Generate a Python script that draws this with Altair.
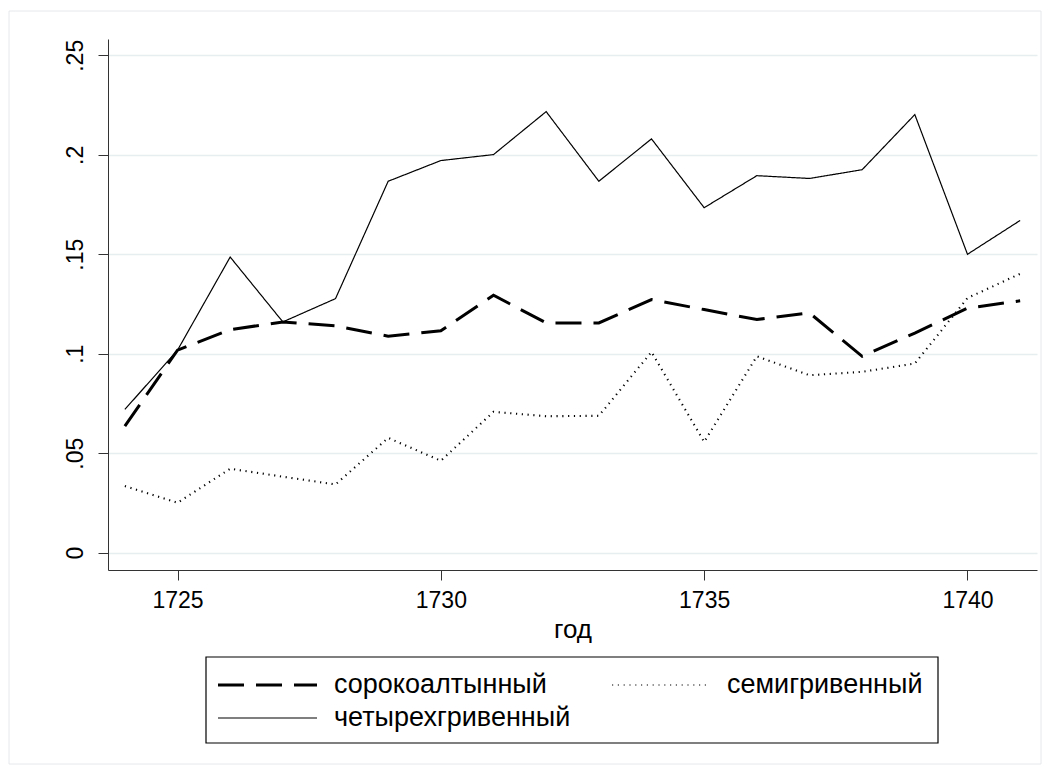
import altair as alt
import pandas as pd

years = list(range(1724, 1742))
sorok = [0.0636, 0.1018, 0.1121, 0.1160, 0.1140, 0.1088, 0.1115, 0.1294, 0.1155,
         0.1155, 0.1272, 0.1222, 0.1172, 0.1205, 0.0987, 0.1104, 0.1229, 0.1266]
semi = [0.0335, 0.0251, 0.0422, 0.0382, 0.0343, 0.0577, 0.0462, 0.0708, 0.0686,
        0.0688, 0.1009, 0.0557, 0.0987, 0.0892, 0.0909, 0.0951, 0.1280, 0.1402]
chetyr = [0.0720, 0.1018, 0.1486, 0.1160, 0.1277, 0.1867, 0.1971, 0.2001, 0.2217,
          0.1867, 0.2080, 0.1734, 0.1895, 0.1881, 0.1925, 0.2202, 0.1500, 0.1670]

series_names = ["сорокоалтынный", "семигривенный", "четырехгривенный"]
x_ticks = [1725, 1730, 1735, 1740]
y_ticks = [0, 0.05, 0.1, 0.15, 0.2, 0.25]

rows = []
for name, vals in zip(series_names, [sorok, semi, chetyr]):
    for yr, v in zip(years, vals):
        rows.append({"год": yr, "value": v, "series": name})
df = pd.DataFrame(rows)

FONT = "Liberation Sans, Arial, sans-serif"
DASHES = [[26, 12], [1.2, 4.6], [1, 0]]
WIDTHS = [3, 1.2, 1.2]

W, H = 929, 531
one = pd.DataFrame({"a": [0]})

frame = alt.Chart(one).mark_rect(
    fill="transparent", stroke="#e4e8ea", strokeWidth=1
).encode(
    x=alt.value(-99), x2=alt.value(933), y=alt.value(-28), y2=alt.value(725)
)

lines = alt.Chart(df).mark_line(color="black", strokeCap="butt", strokeJoin="miter").encode(
    x=alt.X("год:Q",
            scale=alt.Scale(domain=[1723.68, 1741.32], nice=False, zero=False),
            axis=alt.Axis(values=x_ticks, format="d", title="год", grid=False,
                          labelPadding=9, titlePadding=4)),
    y=alt.Y("value:Q",
            scale=alt.Scale(domain=[-0.0087, 0.2582], nice=False, zero=False),
            axis=alt.Axis(values=y_ticks, title=None, grid=True,
                          labelAngle=270, labelAlign="center", labelBaseline="bottom",
                          labelPadding=11,
                          labelExpr="datum.value == 0 ? '0' : replace(format(datum.value, '.2~f'), '0.', '.')")),
    strokeDash=alt.StrokeDash("series:N", sort=series_names,
                              scale=alt.Scale(domain=series_names, range=DASHES),
                              legend=None),
    strokeWidth=alt.StrokeWidth("series:N", sort=series_names,
                                scale=alt.Scale(domain=series_names, range=WIDTHS),
                                legend=None),
    detail="series:N",
)

# legend box (drawn manually, Stata style)
leg_box = alt.Chart(one).mark_rect(
    fill="white", stroke="black", strokeWidth=1.2
).encode(x=alt.value(98), x2=alt.value(830), y=alt.value(618), y2=alt.value(704))

# legend entries: (sample x start, sample x end, row y, text x)
entries = [(110, 209, 646, 226), (504, 600, 646, 619), (110, 209, 679, 226)]
leg_layers = []
for (x0, x1, yy, tx), name, dash, sw in zip(entries, series_names, DASHES, WIDTHS):
    leg_layers.append(
        alt.Chart(one).mark_rule(color="black", strokeDash=dash, strokeWidth=sw,
                                 strokeCap="butt").encode(
            x=alt.value(x0), x2=alt.value(x1), y=alt.value(yy), y2=alt.value(yy))
    )
    leg_layers.append(
        alt.Chart(one).mark_text(text=name, font=FONT, fontSize=27, color="black",
                                 align="left", baseline="middle").encode(
            x=alt.value(tx), y=alt.value(yy))
    )

chart = alt.layer(frame, lines, leg_box, *leg_layers).properties(
    width=W, height=H,
    autosize=alt.AutoSizeParams(type="none"),
    padding={"left": 100, "top": 31, "right": 5, "bottom": 195},
).configure_view(
    stroke=None
).configure_axis(
    labelFont=FONT, titleFont=FONT, labelFontSize=23, titleFontSize=26,
    labelColor="black", titleColor="black", titleFontWeight="normal",
    domainColor="#333333", domainWidth=1, tickColor="#333333", tickWidth=1, tickSize=10,
    gridColor="#e6eef0", gridWidth=1.5,
)

chart.save("out.html", embed_options={"renderer": "svg", "actions": False})
